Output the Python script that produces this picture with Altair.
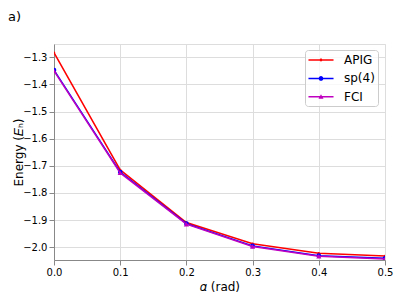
import altair as alt
import pandas as pd

alpha = [0.0, 0.1, 0.2, 0.3, 0.4, 0.5]
apig = [-1.283, -1.715, -1.909, -1.987, -2.022, -2.032]
sp4 = [-1.347, -1.723, -1.913, -1.995, -2.031, -2.041]
fci = [-1.350, -1.726, -1.915, -1.997, -2.033, -2.043]
series = ["APIG", "sp(4)", "FCI"]
colors = ["#ff0000", "#0000ff", "#bf00bf"]
y_ticks = [-1.3, -1.4, -1.5, -1.6, -1.7, -1.8, -1.9, -2.0]
panel_label = ["a)"]

rows = []
for name, vals in zip(series, [apig, sp4, fci]):
    for a, v in zip(alpha, vals):
        rows.append({"alpha": a, "energy": v, "series": name})
df = pd.DataFrame(rows)

FONT = "DejaVu Sans"

x = alt.X("alpha:Q",
          scale=alt.Scale(domain=[0, 0.5], nice=False),
          axis=alt.Axis(values=alpha, format=".1f", title="\U0001D6FC (rad)",
                        labelFlush=False, titleFontSize=12, titlePadding=4,
                        labelFont=FONT, titleFont=FONT, titleFontWeight="normal"))
y = alt.Y("energy:Q",
          scale=alt.Scale(domain=[-2.047, -1.251], nice=False, zero=False),
          axis=alt.Axis(values=y_ticks, format=".1f", title="Energy (\U0001D438\u2095)",
                        titleFontSize=12, titleX=-36, titleY=108, titleAngle=270,
                        titleAlign="center", titleBaseline="middle",
                        labelFont=FONT, titleFont=FONT, titleFontWeight="normal"))

base = alt.Chart(df)
shapes_plot = ["circle", "circle", "triangle-up"]
sizes_plot = [6, 22, 26]

layers = []
for name, col, shp, sz in zip(series, colors, shapes_plot, sizes_plot):
    sub = base.transform_filter(alt.datum.series == name)
    layers.append(sub.mark_line(color=col, strokeWidth=1.5, clip=True).encode(x=x, y=y))
    layers.append(sub.mark_point(color=col, filled=True, shape=shp, size=sz, opacity=1, clip=True).encode(x=x, y=y))

bar = "M-1.79,-0.107L1.79,-0.107L1.79,0.107L-1.79,0.107Z"
def circ(r):
    return f"M{-r},0A{r},{r} 0 1,1 {r},0A{r},{r} 0 1,1 {-r},0Z"
legend_paths = [
    bar + circ(0.21),
    bar + circ(0.33),
    bar + "M0,-0.36L0.36,0.27L-0.36,0.27Z",
]

leg = alt.Legend(orient="none", legendX=251, legendY=6, title=None,
                 symbolSize=196, symbolOpacity=1, symbolStrokeWidth=0,
                 labelFontSize=12, labelFont=FONT, padding=3,
                 fillColor="rgba(255,255,255,0.8)", strokeColor="#cccccc",
                 cornerRadius=3, rowPadding=5.4, labelOffset=16, symbolOffset=6)

legend_layer = base.mark_point(filled=True, opacity=0).encode(
    x=x, y=y,
    color=alt.Color("series:N", scale=alt.Scale(domain=series, range=colors), legend=leg),
    shape=alt.Shape("series:N", scale=alt.Scale(domain=series, range=legend_paths), legend=leg),
)

label_layer = alt.Chart(pd.DataFrame({"t": panel_label})).mark_text(
    font=FONT, fontSize=13, align="left", baseline="alphabetic", color="black"
).encode(text="t:N", x=alt.value(-46), y=alt.value(-23))

chart = alt.layer(*layers, legend_layer, label_layer).properties(
    width=331, height=216,
    autosize=alt.AutoSizeParams(type="none"),
    padding={"left": 46, "top": 36, "right": 9, "bottom": 34},
).configure_view(stroke="black", strokeWidth=1).configure_axis(
    labelFont=FONT, titleFont=FONT, labelFontSize=8.5, labelColor="black",
    titleColor="black", titleFontWeight="normal",
    tickColor="black", tickSize=3.5, tickWidth=1, labelPadding=3,
    grid=True, gridColor="#c8c8c8", gridWidth=1, domain=False,
).configure(background="white")

chart.save("out.html", embed_options={"renderer": "svg", "actions": False})
